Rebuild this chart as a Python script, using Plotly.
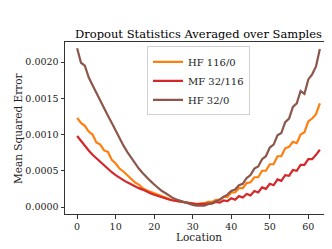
import plotly.graph_objects as go

location = list(range(64))

hf_116_0 = [0.00123, 0.00116, 0.00112, 0.00104, 0.00100, 0.00089, 0.00086, 0.00078, 0.00076, 0.00065,
            0.00060, 0.00053, 0.00049, 0.00044, 0.00040, 0.00034, 0.00031, 0.00026, 0.00023, 0.00021,
            0.00018, 0.00016, 0.00014, 0.00012, 0.00010, 0.00009, 0.00008, 0.00007, 0.00006, 0.00005,
            0.00005, 0.00004, 0.00005, 0.00005, 0.00007, 0.00007, 0.00010, 0.00010, 0.00014, 0.00014,
            0.00020, 0.00020, 0.00026, 0.00026, 0.00033, 0.00034, 0.00041, 0.00041, 0.00050, 0.00050,
            0.00059, 0.00059, 0.00070, 0.00070, 0.00081, 0.00083, 0.00090, 0.00088, 0.00100, 0.00103,
            0.00118, 0.00122, 0.00128, 0.00143]

mf_32_116 = [0.00098, 0.00091, 0.00084, 0.00078, 0.00072, 0.00067, 0.00062, 0.00057, 0.00052, 0.00048,
             0.00044, 0.00040, 0.00037, 0.00034, 0.00031, 0.00029, 0.00026, 0.00024, 0.00021, 0.00019,
             0.00017, 0.00015, 0.00013, 0.00012, 0.00010, 0.00009, 0.00008, 0.00007, 0.00006, 0.00005,
             0.00004, 0.00004, 0.00004, 0.00004, 0.00005, 0.00005, 0.00007, 0.00006, 0.00009, 0.00008,
             0.00012, 0.00010, 0.00015, 0.00013, 0.00018, 0.00016, 0.00022, 0.00020, 0.00027, 0.00025,
             0.00032, 0.00030, 0.00038, 0.00036, 0.00044, 0.00043, 0.00051, 0.00050, 0.00058, 0.00058,
             0.00066, 0.00066, 0.00072, 0.00079]

hf_32_0 = [0.00219, 0.00199, 0.00195, 0.00179, 0.00168, 0.00157, 0.00146, 0.00137, 0.00126, 0.00116,
           0.00105, 0.00094, 0.00085, 0.00076, 0.00068, 0.00060, 0.00053, 0.00047, 0.00041, 0.00036,
           0.00031, 0.00026, 0.00022, 0.00019, 0.00015, 0.00012, 0.00010, 0.00008, 0.00006, 0.00004,
           0.00003, 0.00002, 0.00002, 0.00002, 0.00004, 0.00005, 0.00008, 0.00010, 0.00014, 0.00017,
           0.00022, 0.00024, 0.00030, 0.00032, 0.00040, 0.00044, 0.00053, 0.00056, 0.00066, 0.00070,
           0.00082, 0.00086, 0.00099, 0.00102, 0.00117, 0.00122, 0.00138, 0.00143, 0.00160, 0.00156,
           0.00176, 0.00183, 0.00194, 0.00218]

series = [
    ("HF 116/0", hf_116_0, "#ff7f0e"),
    ("MF 32/116", mf_32_116, "#d62728"),
    ("HF 32/0", hf_32_0, "#8c564b"),
]

x_ticks = [0, 10, 20, 30, 40, 50, 60]
y_ticks = [0.0, 0.0005, 0.0010, 0.0015, 0.0020]

font_family = "DejaVu Serif"

fig = go.Figure()
for name, vals, color in series:
    fig.add_trace(go.Scatter(x=location, y=vals, mode="lines", name=name,
                             line=dict(color=color, width=2.2)))

fig.update_layout(
    width=332, height=249,
    margin=dict(l=57, r=8, t=34, b=43),
    paper_bgcolor="white", plot_bgcolor="white",
    font=dict(family=font_family, size=9.5, color="#222"),
    title=dict(text="Dropout Statistics Averaged over Samples", x=0.5, xref="paper",
               xanchor="center", y=1, yref="paper", yanchor="bottom",
               pad=dict(b=4), font=dict(family="DejaVu Serif, serif", size=11.5, color="black")),
    legend=dict(x=0.5, xanchor="center", y=0.975, yanchor="top",
                bgcolor="rgba(255,255,255,0.9)", bordercolor="#d0d0d0", borderwidth=1,
                font=dict(family=font_family, size=10, color="#222"),
                itemwidth=30, tracegroupgap=0),
    showlegend=True,
    annotations=[
        dict(text="Location", xref="paper", yref="paper", x=0.5, y=0, xanchor="center",
             yanchor="top", yshift=-15, showarrow=False,
             font=dict(family=font_family, size=10.5, color="#222")),
        dict(text="Mean Squared Error", xref="paper", yref="paper", x=0, y=0.5,
             xanchor="center", yanchor="middle", xshift=-47, textangle=-90, showarrow=False,
             font=dict(family=font_family, size=10.5, color="#222")),
    ],
)
fig.update_xaxes(range=[-3.15, 66.15], tickvals=x_ticks, ticks="outside", ticklen=3.5,
                 tickcolor="#333", showline=True, linecolor="#333", linewidth=1, mirror=True,
                 showgrid=False, zeroline=False)
fig.update_yaxes(range=[-0.0000966, 0.002276], tickvals=y_ticks, tickformat=".4f",
                 ticks="outside", ticklen=3.5, tickcolor="#333", showline=True, linecolor="#333",
                 linewidth=1, mirror=True, showgrid=False, zeroline=False)

fig.write_html("out.html")
